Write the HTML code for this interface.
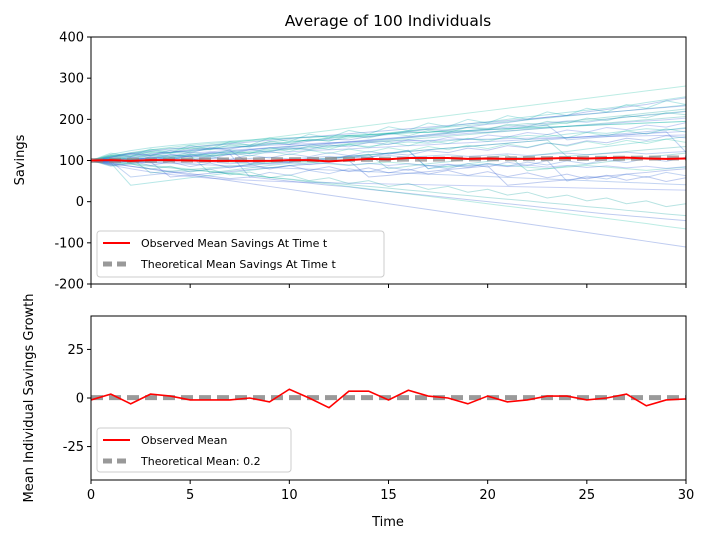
<!DOCTYPE html>
<html><head><meta charset="utf-8"><style>
html,body{margin:0;padding:0;background:#fff;}
svg{display:block;font-family:"DejaVu Sans","Liberation Sans",sans-serif;}
</style></head><body>
<svg id="chart" width="709" height="544" viewBox="0 0 709 544" xmlns="http://www.w3.org/2000/svg">
<rect width="709" height="544" fill="#fff"/>
<text x="388" y="26" font-size="15.5" text-anchor="middle">Average of 100 Individuals</text>
<g id="top-plot"></g>
<g id="bottom-plot"></g>
<text x="24" y="160" font-size="13" text-anchor="middle" transform="rotate(-90 24 160)">Savings</text>
<text x="33" y="398" font-size="13" text-anchor="middle" transform="rotate(-90 33 398)">Mean Individual Savings Growth</text>
<text x="388" y="526" font-size="13" text-anchor="middle">Time</text>
</svg>
<script>
const times = Array.from({length:31},(_,i)=>i);
const observedMeanSavings = [100,101,99,101,101,100,99,99,99,99,101,101,98,101,104,103,106,106,106,104,105,104,104,105,106,105,106,107,105,104,105];
const theoreticalMeanSavings = [100,100.2,100.4,100.6,100.8,101,101.2,101.4,101.6,101.8,102,102.2,102.4,102.6,102.8,103,103.2,103.4,103.7,103.9,104.1,104.3,104.5,104.7,104.9,105.1,105.3,105.5,105.7,106,106.2];
const observedMeanGrowth = [-1,2,-3,2,1,-1,-1,-1,0,-2,4.5,0,-5,3.5,3.5,-1,4,1,0,-3,1,-2,-1,1,1,-1,0,2,-4,-1,-0.5];
const theoreticalMeanGrowth = 0.2;
const topTicks = [400,300,200,100,0,-100,-200];
const bottomTicks = [25,0,-25];
const xTicks = [0,5,10,15,20,25,30];
const individuals = [
[100,112,118,125,130,128,135,140,138,145,150,148,155,160,158,165,170,168,175,180,178,185,190,188,195,200,205,210,215,220,225],
[100,108,115,112,120,126,131,128,136,142,139,147,152,150,158,163,170,176,173,181,188,192,199,205,210,218,224,230,236,245,252],
[100,105,98,104,110,115,112,118,122,127,133,138,135,141,146,150,155,160,166,171,168,175,181,186,192,196,201,205,211,215,220],
[100,95,102,108,104,111,117,121,126,131,128,134,140,144,148,153,157,163,168,172,177,181,186,191,196,193,200,206,210,214,219],
[100,110,116,121,118,124,130,135,133,139,144,150,148,155,161,166,172,178,183,189,194,200,206,211,217,222,227,233,241,248,255],
[100,103,107,111,114,118,121,125,128,131,135,138,142,145,149,152,156,159,162,166,169,172,176,179,183,186,189,193,196,199,203],
[100,90,96,101,107,112,70,76,82,88,93,98,104,109,115,80,86,92,97,103,108,113,75,80,86,91,97,102,108,113,118],
[100,92,86,80,74,68,62,56,60,55,50,45,40,36,30,25,20,15,10,5,0,-5,-10,-15,-20,-25,-30,-34,-38,-42,-46],
[100,97,93,88,84,79,74,69,64,59,54,48,43,37,31,25,19,13,7,1,-5,-11,-17,-23,-29,-35,-41,-47,-53,-60,-66],
[100,98,60,65,70,74,79,84,88,93,97,101,106,110,114,118,122,126,130,134,138,142,146,150,154,158,162,166,170,174,178],
[100,104,109,113,118,122,127,131,136,140,145,149,154,158,163,167,172,176,181,185,190,194,199,203,208,212,217,221,226,230,235],
[100,101,103,105,107,110,112,114,117,119,121,124,126,128,131,133,136,138,141,143,146,148,151,153,156,158,161,163,166,168,171],
[100,96,91,86,82,77,73,68,64,59,55,50,46,41,37,33,28,24,19,15,10,6,2,-3,-7,-12,-16,-21,-25,-30,-34],
[100,88,92,97,60,64,69,73,78,82,87,91,96,100,60,64,69,73,78,82,87,40,44,49,53,58,62,67,71,76,80],
[100,107,113,119,125,131,137,143,149,155,161,167,173,179,185,191,197,203,209,215,221,227,233,239,245,251,257,263,269,275,281],
[100,99,97,95,93,91,89,87,85,83,81,79,77,75,73,71,69,67,65,63,61,59,57,55,53,51,49,47,45,43,41],
[100,94,40,46,52,58,64,70,76,82,88,94,100,106,112,118,124,80,86,92,98,104,110,116,122,128,134,140,146,152,158],
[100,106,111,116,120,124,128,131,134,137,139,141,143,145,146,147,148,149,150,151,152,153,154,155,156,157,158,159,160,161,162],
[100,102,95,99,103,107,111,115,119,123,127,131,135,139,143,147,151,155,159,163,167,171,175,179,183,187,191,195,199,203,207],
[100,93,86,79,72,65,58,51,44,37,30,23,16,9,2,-5,-12,-19,-26,-33,-40,-47,-54,-61,-68,-75,-82,-89,-96,-103,-110],
[100,111,119,126,132,137,141,145,148,151,154,156,159,161,163,165,167,169,171,173,175,177,179,181,183,185,187,189,191,193,195],
[100,97,101,104,100,103,106,102,105,108,104,107,110,106,109,112,108,111,114,110,113,116,112,115,118,114,117,120,116,119,122],
[100,105,102,108,113,110,116,121,118,124,129,126,132,137,134,140,145,142,148,153,150,156,161,158,164,169,166,172,177,174,180],
[100,89,80,72,66,61,57,54,52,50,48,47,46,45,44,43,42,41,40,39,38,37,36,35,34,33,32,31,30,29,28],
[100,103,106,70,74,78,82,86,90,94,98,102,106,110,114,118,122,126,130,134,138,142,146,150,110,114,118,122,126,130,134],
[100,109,117,123,128,133,137,141,145,149,153,157,161,165,169,173,177,181,185,189,193,197,201,205,209,213,217,221,225,229,233],
[100,104,100,96,100,104,100,96,92,96,100,96,92,88,92,96,92,88,84,88,92,88,84,80,84,88,84,80,76,80,84],
[100,98,102,106,110,114,118,122,126,130,134,138,142,146,150,154,158,162,166,170,174,178,182,186,150,154,158,162,166,170,120],
[100,115,124,131,136,140,144,147,150,153,155,157,159,161,163,165,167,169,171,173,175,177,179,181,183,185,187,189,191,193,195],
[100,95,99,94,98,93,97,92,96,91,95,90,94,89,93,88,92,87,91,86,90,85,89,84,88,83,87,82,86,81,85],
[100,114,109,122,118,131,126,138,133,146,140,152,147,160,155,166,160,173,168,181,175,188,182,195,190,203,197,209,204,216,211],
[100,91,99,88,97,85,94,82,91,79,88,76,85,73,82,70,79,67,76,64,73,61,70,58,67,55,64,52,61,49,58],
[100,112,104,117,108,121,113,126,117,131,122,135,127,140,131,145,136,149,141,154,146,159,150,163,155,168,160,172,164,177,169],
[100,106,97,109,101,113,104,116,60,71,64,76,68,80,72,84,76,88,80,92,84,96,88,100,50,62,55,67,59,71,63],
[100,118,110,128,119,137,128,146,137,155,146,164,155,173,164,182,173,191,182,200,191,209,200,218,209,227,218,236,227,245,236],
[100,97,108,103,114,109,120,115,126,121,132,127,138,133,144,139,150,145,156,151,162,157,168,163,174,169,180,175,186,181,192],
[100,86,93,79,86,72,79,65,72,58,65,51,58,44,51,37,44,30,37,23,30,16,23,9,16,2,9,-5,2,-12,-5],
[100,108,118,113,124,119,130,125,92,100,95,106,101,112,107,118,113,124,119,130,125,136,131,142,137,148,143,154,149,160,155],
[100,110,102,113,105,116,108,119,111,122,114,125,117,128,120,131,123,134,126,137,129,140,132,143,135,146,138,149,141,152,144],
[100,94,104,97,107,100,110,103,113,106,116,109,119,112,122,115,125,80,90,83,93,86,96,89,99,92,102,95,105,98,108]
];
const NS='http://www.w3.org/2000/svg';
function mk(tag,attrs,parent){const e=document.createElementNS(NS,tag);for(const k in attrs)e.setAttribute(k,attrs[k]);parent.appendChild(e);return e;}
const X0=91,X1=686;
const xs=t=>X0+(t-0)/30*(X1-X0);
const T0=37,T1=284;const ysTop=v=>T1-(v+200)/600*(T1-T0);
const B0=316,B1=480;const ysBot=v=>B1-(v+42.2)/84.4*(B1-B0);
const topG=document.getElementById('top-plot');
const botG=document.getElementById('bottom-plot');
const cp=mk('clipPath',{id:'clipTop'},topG);mk('rect',{x:X0,y:T0,width:X1-X0,height:T1-T0},cp);
const lineG=mk('g',{'clip-path':'url(#clipTop)'},topG);
const colors=['#0fa3a0','#2a55cc','#22c0a6','#3570d4','#12aeb0','#4466dd'];
individuals.forEach((s,i)=>{
  const p=mk('polyline',{points:s.map((v,t)=>xs(t)+','+ysTop(v)).join(' '),fill:'none',stroke:colors[i%colors.length],'stroke-width':1,'stroke-opacity':0.3},lineG);
  
  
});
const thTop=mk('polyline',{points:theoreticalMeanSavings.map((v,t)=>xs(t)+','+ysTop(v)).join(' '),fill:'none',stroke:'#888','stroke-opacity':0.7,'stroke-width':5,'stroke-dasharray':'12,6'},lineG);


const obTop=mk('polyline',{points:observedMeanSavings.map((v,t)=>xs(t)+','+ysTop(v)).join(' '),fill:'none',stroke:'#ff0000','stroke-width':2},lineG);


mk('rect',{x:X0,y:T0,width:X1-X0,height:T1-T0,fill:'none',stroke:'#000','stroke-width':1},topG);
topTicks.forEach(v=>{const y=ysTop(v);mk('line',{x1:X0-4,x2:X0,y1:y,y2:y,stroke:'#000'},topG);
  const tx=mk('text',{x:X0-7,y:y+4.5,'font-size':13,'text-anchor':'end'},topG);tx.textContent=v;
  
  });
xTicks.forEach(v=>{const x=xs(v);mk('line',{x1:x,x2:x,y1:T1,y2:T1+4,stroke:'#000'},topG);});
const thB=mk('line',{x1:X0,x2:X1,y1:ysBot(theoreticalMeanGrowth),y2:ysBot(theoreticalMeanGrowth),stroke:'#888','stroke-opacity':0.85,'stroke-width':5,'stroke-dasharray':'12,6'},botG);


const obB=mk('polyline',{points:observedMeanGrowth.map((v,t)=>xs(t)+','+ysBot(v)).join(' '),fill:'none',stroke:'#ff0000','stroke-width':1.6},botG);


mk('rect',{x:X0,y:B0,width:X1-X0,height:B1-B0,fill:'none',stroke:'#000','stroke-width':1},botG);
bottomTicks.forEach(v=>{const y=ysBot(v);mk('line',{x1:X0-4,x2:X0,y1:y,y2:y,stroke:'#000'},botG);
  const tx=mk('text',{x:X0-7,y:y+4.5,'font-size':13,'text-anchor':'end'},botG);tx.textContent=v;
  
  });
xTicks.forEach(v=>{const x=xs(v);mk('line',{x1:x,x2:x,y1:B1,y2:B1+4,stroke:'#000'},botG);
  const tx=mk('text',{x:x,y:B1+19,'font-size':13,'text-anchor':'middle'},botG);tx.textContent=v;
  
  });
function legend(g,x,y,w,h,items,name){
  const lg=mk('g',{},g);
  
  
  mk('rect',{x:x,y:y,width:w,height:h,rx:3,fill:'#fff','fill-opacity':0.85,stroke:'#ccc'},lg);
  items.forEach((it,i)=>{const cy=y+12+i*21;
    if(it.dash)mk('line',{x1:x+6,x2:x+33,y1:cy,y2:cy,stroke:'#999','stroke-width':5,'stroke-dasharray':'9,5'},lg);
    else mk('line',{x1:x+6,x2:x+33,y1:cy,y2:cy,stroke:'#f00','stroke-width':2},lg);
    const t=mk('text',{x:x+44,y:cy+4,'font-size':11},lg);t.textContent=it.label;
    
    });
}
legend(topG,97,231,287,46,[{label:'Observed Mean Savings At Time t'},{label:'Theoretical Mean Savings At Time t',dash:true}],'savings-legend');
legend(botG,97,428,194,44,[{label:'Observed Mean'},{label:'Theoretical Mean: 0.2',dash:true}],'growth-legend');
</script>
</body></html>
